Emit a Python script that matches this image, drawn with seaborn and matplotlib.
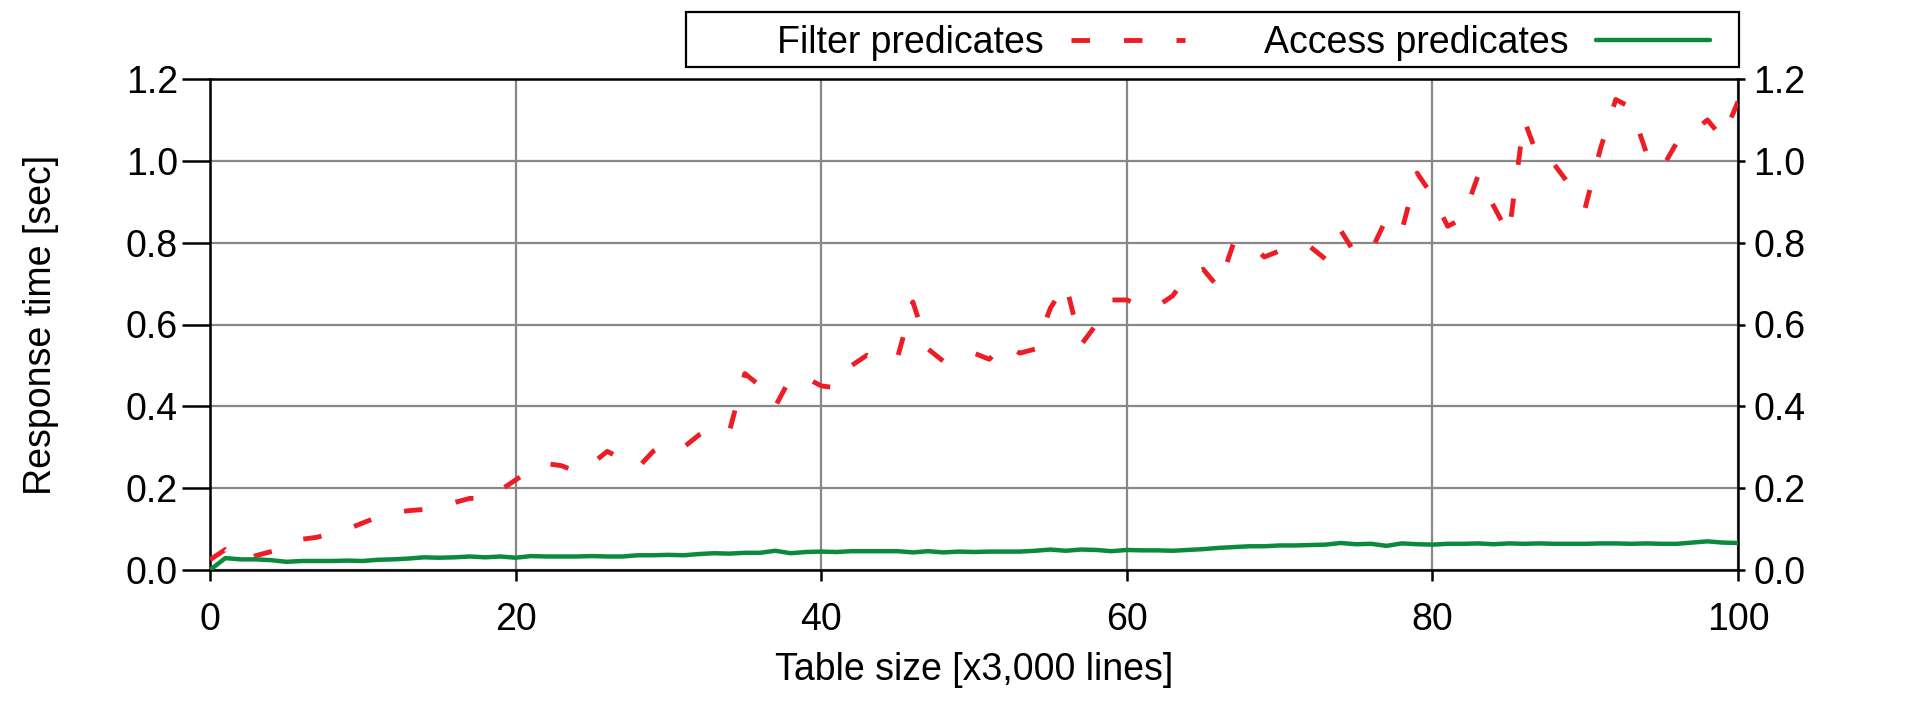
import numpy as np
import pandas as pd
import matplotlib
matplotlib.use("Agg")
import matplotlib.pyplot as plt
from matplotlib.patches import Rectangle
from matplotlib.lines import Line2D
import seaborn as sns

# table size in units of 3,000 lines
table_size = list(range(0, 101))

filter_times = [
    0.025, 0.050, 0.020, 0.035, 0.045, 0.055, 0.075, 0.080, 0.090, 0.100,
    0.115, 0.130, 0.140, 0.145, 0.148, 0.160, 0.165, 0.175, 0.175, 0.195,
    0.220, 0.245, 0.260, 0.255, 0.240, 0.260, 0.290, 0.270, 0.250, 0.290,
    0.310, 0.300, 0.330, 0.350, 0.340, 0.480, 0.450, 0.400, 0.470, 0.470,
    0.450, 0.445, 0.500, 0.525, 0.510, 0.520, 0.655, 0.540, 0.510, 0.520,
    0.530, 0.515, 0.555, 0.530, 0.540, 0.640, 0.700, 0.550, 0.600, 0.660,
    0.660, 0.645, 0.645, 0.670, 0.720, 0.735, 0.690, 0.800, 0.800, 0.765,
    0.780, 0.790, 0.790, 0.760, 0.830, 0.770, 0.780, 0.860, 0.830, 0.970,
    0.915, 0.840, 0.860, 0.965, 0.890, 0.820, 1.100, 1.000, 0.990, 0.940,
    0.885, 1.030, 1.150, 1.130, 1.020, 0.980, 1.045, 1.070, 1.100, 1.055,
    1.145,
]

access_times = [
    0.000, 0.029, 0.026, 0.026, 0.024, 0.020, 0.022, 0.022, 0.022, 0.023,
    0.022, 0.025, 0.026, 0.028, 0.031, 0.030, 0.031, 0.033, 0.031, 0.033,
    0.030, 0.034, 0.033, 0.033, 0.033, 0.034, 0.033, 0.033, 0.036, 0.036,
    0.037, 0.036, 0.039, 0.041, 0.040, 0.042, 0.042, 0.047, 0.041, 0.044,
    0.045, 0.044, 0.046, 0.046, 0.046, 0.046, 0.043, 0.046, 0.043, 0.045,
    0.044, 0.045, 0.045, 0.045, 0.047, 0.050, 0.047, 0.050, 0.049, 0.046,
    0.049, 0.048, 0.048, 0.047, 0.049, 0.051, 0.054, 0.056, 0.058, 0.058,
    0.060, 0.060, 0.061, 0.062, 0.066, 0.063, 0.064, 0.059, 0.065, 0.063,
    0.062, 0.064, 0.064, 0.065, 0.063, 0.065, 0.064, 0.065, 0.064, 0.064,
    0.064, 0.065, 0.065, 0.064, 0.065, 0.064, 0.064, 0.067, 0.070, 0.067,
    0.066,
]

x_ticks = [0, 20, 40, 60, 80, 100]
y_ticks = [0.0, 0.2, 0.4, 0.6, 0.8, 1.0, 1.2]
y_labels = [f"{v:.1f}" for v in y_ticks]

sns.set_theme(style="white")
plt.rcParams['font.family'] = ['Liberation Sans', 'DejaVu Sans']
plt.rcParams['text.color'] = 'black'
plt.rcParams['axes.labelcolor'] = 'black'
plt.rcParams['xtick.color'] = 'black'
plt.rcParams['ytick.color'] = 'black'

df = pd.DataFrame({"size": table_size, "filter": filter_times, "access": access_times})

red = "#ee1c25"
green = "#0b8a3c"
fs = 27
dash = (0, (3.8, 7.0))

fig = plt.figure(figsize=(19.2, 7.04), dpi=100)
ax = fig.add_axes([210 / 1920, 1 - 570 / 704, (1738 - 210) / 1920, (570 - 79) / 704])

sns.lineplot(data=df, x="size", y="filter", ax=ax, color=red, linewidth=3.5,
             linestyle=dash, zorder=3)
sns.lineplot(data=df, x="size", y="access", ax=ax, color=green, linewidth=3.2, zorder=3)

ax.set_xlim(0, 100)
ax.set_ylim(0, 1.2)
ax.set_xticks(x_ticks)
ax.set_yticks(y_ticks)
ax.set_yticklabels(y_labels)
ax.grid(True, color="#888888", linewidth=1.6)
ax.set_axisbelow(True)

for s in ax.spines.values():
    s.set_color("black")
    s.set_linewidth(1.8)
    s.set_visible(True)

ax.tick_params(axis="y", left=True, direction="out", length=20, width=1.8,
               labelsize=fs, pad=3)
ax.tick_params(axis="x", bottom=True, direction="out", length=8, width=1.8,
               labelsize=fs, pad=15)

# mirrored scale on the right
ax2 = ax.twinx()
ax2.set_ylim(ax.get_ylim())
ax2.set_yticks(y_ticks)
ax2.set_yticklabels(y_labels)
ax2.tick_params(axis="y", right=True, direction="out", length=5, width=1.8,
                labelsize=fs, pad=6)
ax2.grid(False)
for s in ax2.spines.values():
    s.set_visible(False)

ax.set_xlabel("Table size [x3,000 lines]", fontsize=fs, labelpad=10)
ax.set_ylabel("Response time [sec]", fontsize=fs, labelpad=48)

# legend box along the top right
fig.patches.append(Rectangle((686 / 1920, 1 - 67 / 704), (1739 - 686) / 1920, 55 / 704,
                             transform=fig.transFigure, facecolor="white",
                             edgecolor="black", linewidth=1.6))
handles = [Line2D([], [], color=red, linewidth=3.5, linestyle=dash),
           Line2D([], [], color=green, linewidth=3.2)]
fig.legend(handles, ["Filter predicates", "Access predicates"], loc="center right",
           bbox_to_anchor=(1710 / 1920, 1 - 43 / 704), ncol=2, markerfirst=False,
           frameon=False, fontsize=fs, handlelength=3.05, handletextpad=0.72,
           columnspacing=2.1, borderaxespad=0, borderpad=0)

fig.savefig("out.png", dpi=100)
